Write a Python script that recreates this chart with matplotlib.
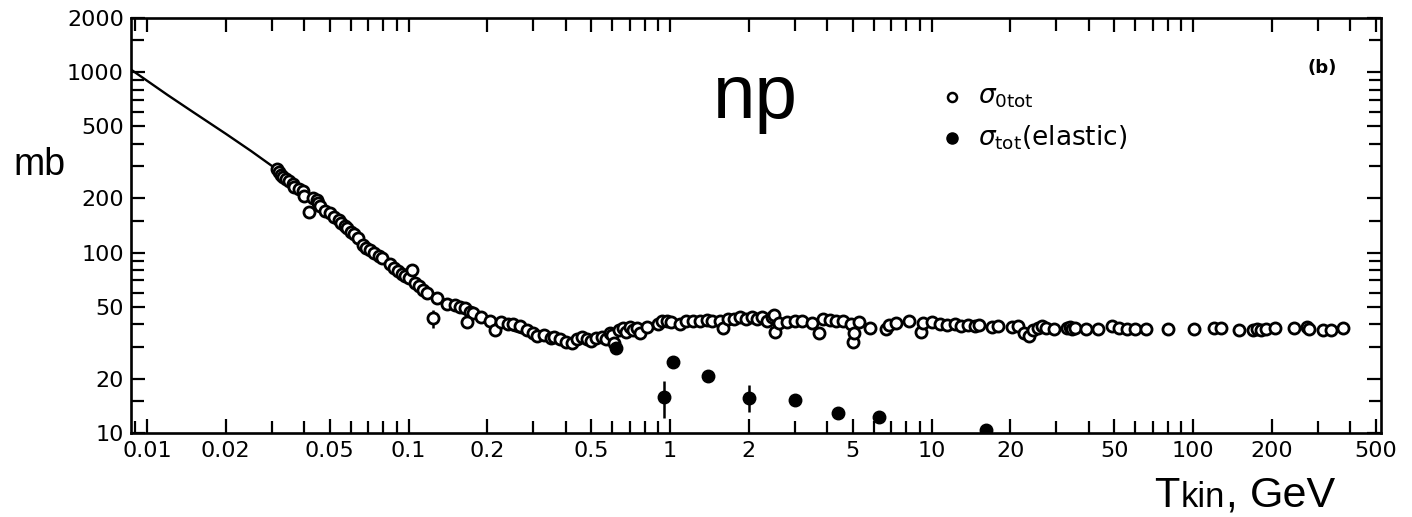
import numpy as np
import matplotlib
matplotlib.use("Agg")
import matplotlib.pyplot as plt
from matplotlib.ticker import FixedLocator, LogLocator, NullFormatter, FixedFormatter

# open circles: total np cross-section (T in GeV, sigma in mb)
x_tot = [0.0315, 0.032, 0.0325, 0.033, 0.034, 0.035, 0.036, 0.0365, 0.038, 0.0395,
         0.040, 0.0415, 0.043, 0.0445, 0.045, 0.046, 0.048, 0.050, 0.052, 0.054,
         0.055, 0.057, 0.058, 0.060, 0.062, 0.064, 0.067, 0.069, 0.071, 0.074,
         0.077, 0.079, 0.085, 0.088, 0.091, 0.094, 0.097, 0.100, 0.103, 0.106,
         0.110, 0.114, 0.118, 0.128, 0.140, 0.150, 0.158, 0.165, 0.172, 0.177,
         0.167, 0.190, 0.205, 0.215, 0.225, 0.240, 0.251, 0.267, 0.285, 0.30,
         0.31, 0.33, 0.35, 0.36,
         0.38, 0.40, 0.42, 0.44, 0.46, 0.48, 0.50, 0.52, 0.55, 0.57,
         0.59, 0.60, 0.61, 0.64, 0.66, 0.68, 0.70, 0.72, 0.75, 0.77,
         0.82, 0.90, 0.93, 0.97, 1.01, 1.09, 1.15, 1.22, 1.30, 1.38,
         1.45, 1.55, 1.60, 1.67, 1.75, 1.85, 1.95, 2.05, 2.15, 2.25,
         2.35, 2.45, 2.50, 2.52, 2.60, 2.80, 3.0, 3.2, 3.5, 3.7,
         3.85, 4.1, 4.3, 4.6, 4.9, 5.0, 5.05, 5.3, 5.8, 6.7,
         6.9, 7.3, 8.2, 9.1, 9.3, 10.0, 10.8, 11.5, 12.3, 13.0,
         13.8, 14.6, 15.2, 17.0, 18.0, 20.3, 21.5, 22.5, 23.5, 24.5,
         25.5, 26.5, 27.5, 29.5, 33.0, 33.8, 34.5, 35.5, 39.0, 43.5,
         49.0, 52.0, 56.0, 60.0, 66.0, 80.0, 101, 120, 128, 150,
         170, 176, 182, 190, 205, 243, 272, 278, 315, 337, 376]
y_tot = [290, 280, 270, 262, 255, 248, 240, 232, 225, 218,
         205, 168, 200, 196, 188, 180, 170, 165, 158, 152,
         146, 140, 136, 130, 126, 121, 110, 106, 103, 100,
         96, 93, 86, 82, 79, 76, 74, 72, 80, 68,
         65, 62, 60, 56, 52, 51, 50, 49, 47, 46,
         41, 44, 42, 37, 41, 40, 40, 39, 37, 36,
         34.5, 35, 33.5, 34,
         33, 32, 31.5, 33, 34, 33, 32.5, 33.5, 34, 33,
         36, 35, 31.5, 37, 38, 36.5, 38.5, 37, 38, 35.7,
         38.5, 40, 41.5, 42, 41, 40, 41.5, 42, 42, 42.5,
         41.5, 42, 38, 43, 43, 44, 43, 44, 43, 44,
         42, 44, 45, 36.5, 40.5, 41, 42, 41.5, 40.5, 36,
         43, 42.5, 42, 41.5, 40, 32, 36, 41, 38, 37.5,
         39.5, 40.5, 42, 36.5, 40.5, 41, 40, 39.5, 40, 39,
         39.5, 39, 39.5, 38.5, 39, 38.5, 39, 36, 34.5, 37,
         38, 39, 38, 37.5, 38, 38.5, 37.5, 38, 37.5, 37.5,
         39, 38, 37.5, 37.5, 37.5, 37.5, 37.5, 38, 38, 37,
         37, 37.5, 37, 37.5, 38, 38, 38.5, 37.5, 37, 37, 38]

# open circle with error bar
x_tot_err = [0.124]
y_tot_err = [43.4]
tot_lo = [5.4]
tot_hi = [4.6]

# filled circles: elastic cross-section
x_el = [0.62, 0.95, 1.03, 1.40, 2.0, 3.0, 4.37, 6.3, 16.1]
y_el = [29.6, 15.8, 24.7, 20.7, 15.6, 15.2, 12.9, 12.3, 10.4]
el_lo = [0, 3.7, 0, 0, 2.5, 0, 0, 0, 0.6]
el_hi = [0, 3.6, 0, 0, 2.9, 0, 0, 0, 0.8]

# smooth curve at low energy
x_fit = [0.0087, 0.012, 0.015, 0.02, 0.025, 0.031, 0.04, 0.05, 0.06, 0.07,
         0.08, 0.1, 0.12, 0.15, 0.2, 0.25, 0.3, 0.33]
y_fit = [1030, 745, 600, 455, 365, 292, 220, 170, 135, 112,
         95, 74, 61, 51, 42, 37, 34, 33.5]

x_major = [0.01, 0.02, 0.05, 0.1, 0.2, 0.5, 1, 2, 5, 10, 20, 50, 100, 200, 500]
x_labels = ['0.01', '0.02', '0.05', '0.1', '0.2', '0.5', '1', '2', '5',
            '10', '20', '50', '100', '200', '500']
y_major = [10, 20, 50, 100, 200, 500, 1000, 2000]
y_labels = ['10', '20', '50', '100', '200', '500', '1000', '2000']

W, H = 1412, 517
fig = plt.figure(figsize=(W / 100, H / 100), dpi=100)
ax = fig.add_axes([130.7 / W, (H - 433) / H, 1250 / W, 415.3 / H])
ax.set_xscale('log')
ax.set_yscale('log')
ax.set_xlim(0.00866, 522)
ax.set_ylim(10, 2000)

ax.plot(x_fit, y_fit, color='black', lw=1.7, zorder=2)
ax.plot(x_tot, y_tot, 'o', mfc='white', mec='black', ms=8, mew=2.0,
        linestyle='none', zorder=3)
ax.errorbar(x_tot_err, y_tot_err, yerr=[tot_lo, tot_hi], fmt='o', mfc='white',
            mec='black', ecolor='black', ms=8, mew=2.0, elinewidth=1.8,
            capsize=0, zorder=3)
ax.errorbar(x_el, y_el, yerr=[el_lo, el_hi], fmt='o', color='black', ms=9,
            elinewidth=1.8, capsize=0, zorder=4)

ax.xaxis.set_major_locator(FixedLocator(x_major))
ax.xaxis.set_major_formatter(FixedFormatter(x_labels))
ax.xaxis.set_minor_locator(LogLocator(base=10, subs=np.arange(1, 10), numticks=20))
ax.xaxis.set_minor_formatter(NullFormatter())
ax.yaxis.set_major_locator(FixedLocator(y_major))
ax.yaxis.set_major_formatter(FixedFormatter(y_labels))
ax.yaxis.set_minor_locator(LogLocator(base=10, subs=[1.5, 2, 3, 4, 5, 6, 7, 8, 9], numticks=20))
ax.yaxis.set_minor_formatter(NullFormatter())

ax.tick_params(which='both', direction='in', top=True, right=True,
               width=1.6, colors='black')
ax.tick_params(which='major', length=10, labelsize=16)
ax.tick_params(which='minor', length=9)
ax.tick_params(axis='x', pad=6)
ax.tick_params(axis='y', pad=5)
for s in ax.spines.values():
    s.set_linewidth(1.9)

# texts
fig.text(13 / W, 1 - 175 / H, 'mb', fontsize=27, family='Liberation Sans',
         ha='left', va='baseline')
fig.text(713 / W, 1 - 118 / H, 'np', fontsize=55, family='Liberation Sans',
         ha='left', va='baseline')
fig.text(1154 / W, 1 - 507 / H, 'T', fontsize=30, family='Liberation Sans',
         ha='left', va='baseline')
fig.text(1181 / W, 1 - 507 / H, 'kin', fontsize=25, family='Liberation Sans',
         ha='left', va='baseline')
fig.text(1225 / W, 1 - 507 / H, ',', fontsize=30, family='Liberation Sans',
         ha='left', va='baseline')
fig.text(1250 / W, 1 - 507 / H, 'GeV', fontsize=31, family='Liberation Sans',
         ha='left', va='baseline')
fig.text(1322 / W, 1 - 68 / H, '(b)', fontsize=13, fontweight='bold',
         ha='center', va='center')

# legend drawn by hand
fig.lines.append(plt.Line2D([952 / W], [1 - 97 / H], marker='o', mfc='white',
                            mec='black', ms=6.5, mew=1.8, transform=fig.transFigure))
fig.lines.append(plt.Line2D([952 / W], [1 - 138 / H], marker='o', color='black',
                            ms=8, transform=fig.transFigure))
fig.text(978 / W, 1 - 103 / H, r'$\sigma_{\mathrm{0tot}}$', fontsize=19,
         ha='left', va='baseline')
fig.text(978 / W, 1 - 146 / H, r'$\sigma_{\mathrm{tot}}$(elastic)', fontsize=19,
         ha='left', va='baseline')

fig.savefig('out.png', dpi=100, facecolor='white')
